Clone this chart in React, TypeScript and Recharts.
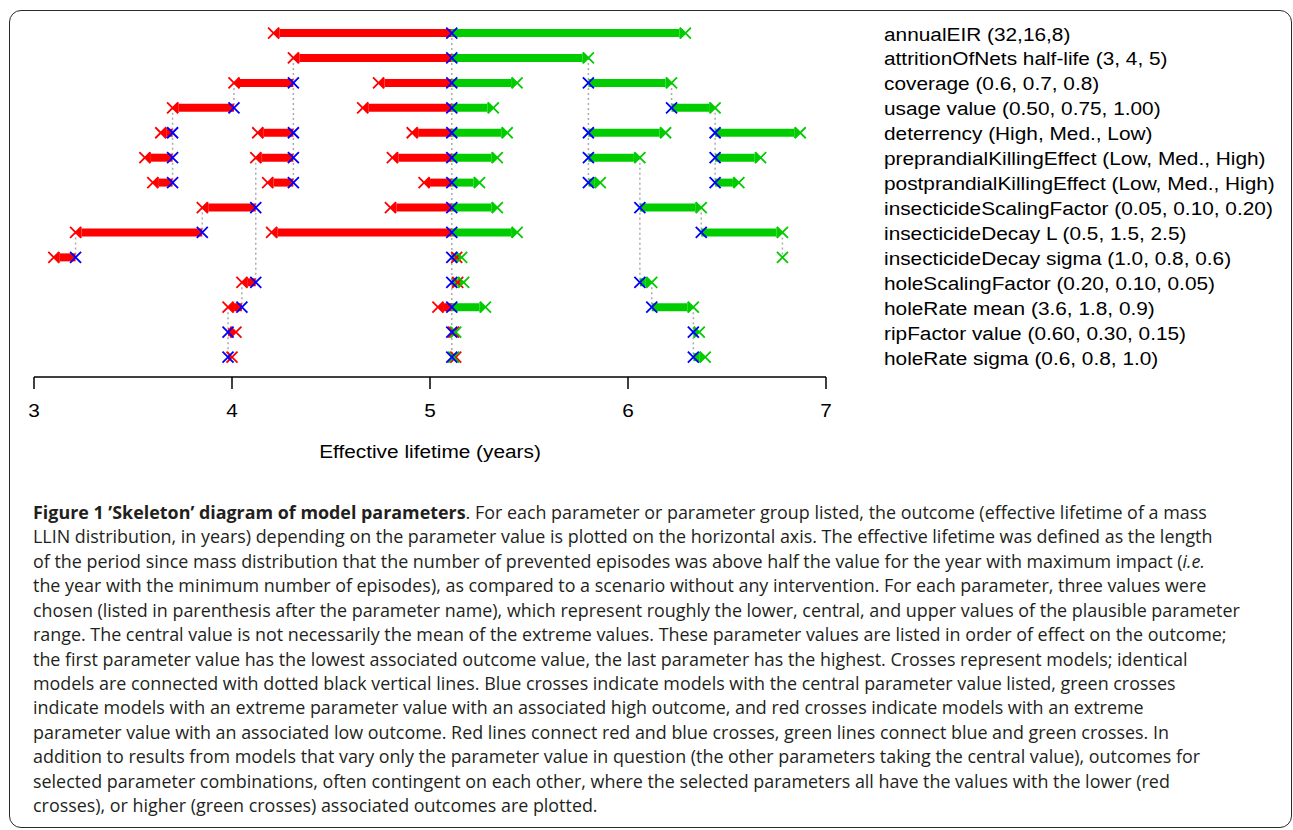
import React from 'react';
import { ComposedChart, XAxis, YAxis, Scatter, ReferenceLine } from 'recharts';

// ---------- data ----------
const parameterLabels = [
  'annualEIR (32,16,8)',
  'attritionOfNets half-life (3, 4, 5)',
  'coverage (0.6, 0.7, 0.8)',
  'usage value (0.50, 0.75, 1.00)',
  'deterrency (High, Med., Low)',
  'preprandialKillingEffect (Low, Med., High)',
  'postprandialKillingEffect (Low, Med., High)',
  'insecticideScalingFactor (0.05, 0.10, 0.20)',
  'insecticideDecay L (0.5, 1.5, 2.5)',
  'insecticideDecay sigma (1.0, 0.8, 0.6)',
  'holeScalingFactor (0.20, 0.10, 0.05)',
  'holeRate mean (3.6, 1.8, 0.9)',
  'ripFactor value (0.60, 0.30, 0.15)',
  'holeRate sigma (0.6, 0.8, 1.0)',
];
const rowIds = [1, 2, 3, 4, 5, 6, 7, 8, 9, 10, 11, 12, 13, 14];
const xTicks = [3, 4, 5, 6, 7];

// [row, central (blue) value, low-outcome (red) value]
const redSegments: [number, number, number][] = [
  [1, 5.11, 4.21],
  [2, 5.11, 4.31],
  [3, 4.31, 4.01], [3, 5.11, 4.74],
  [4, 4.01, 3.7], [4, 5.11, 4.66],
  [5, 3.7, 3.64], [5, 4.31, 4.13], [5, 5.11, 4.91],
  [6, 3.7, 3.56], [6, 4.31, 4.12], [6, 5.11, 4.81],
  [7, 3.7, 3.6], [7, 4.31, 4.18], [7, 5.11, 4.97],
  [8, 4.12, 3.85], [8, 5.11, 4.8],
  [9, 3.85, 3.21], [9, 5.11, 4.2],
  [10, 3.21, 3.1], [10, 5.11, 5.135],
  [11, 4.12, 4.05], [11, 5.11, 5.14],
  [12, 4.05, 3.98], [12, 5.11, 5.04],
  [13, 3.98, 4.02], [13, 5.11, 5.12],
  [14, 3.98, 4.0], [14, 5.11, 5.13],
];
// [row, central (blue) value, high-outcome (green) value]
const greenSegments: [number, number, number][] = [
  [1, 5.11, 6.29],
  [2, 5.11, 5.8],
  [3, 5.11, 5.44], [3, 5.8, 6.22],
  [4, 5.11, 5.32], [4, 6.22, 6.44],
  [5, 5.11, 5.39], [5, 5.8, 6.19], [5, 6.44, 6.87],
  [6, 5.11, 5.34], [6, 5.8, 6.06], [6, 6.44, 6.67],
  [7, 5.11, 5.25], [7, 5.8, 5.86], [7, 6.44, 6.56],
  [8, 5.11, 5.34], [8, 6.06, 6.37],
  [9, 5.11, 5.44], [9, 6.37, 6.78],
  [10, 5.11, 5.16],
  [11, 5.11, 5.17], [11, 6.06, 6.12],
  [12, 5.11, 5.28], [12, 6.12, 6.33],
  [13, 5.11, 5.13], [13, 6.33, 6.36],
  [14, 5.11, 5.12], [14, 6.33, 6.39],
];
// [row, value] green crosses without a central model in the same row
const loneGreenCrosses: [number, number][] = [[10, 6.78]];
// [value, from row, to row] identical models joined by dotted lines
const connectors: [number, number, number][] = [
  [5.11, 1, 14],
  [4.31, 2, 7],
  [5.8, 2, 7],
  [4.01, 3, 4],
  [6.22, 3, 4],
  [3.7, 4, 7],
  [6.44, 4, 7],
  [4.12, 6, 11],
  [6.06, 6, 11],
  [3.85, 8, 9],
  [6.37, 8, 9],
  [3.21, 9, 10],
  [6.78, 9, 10],
  [4.05, 11, 12],
  [6.12, 11, 12],
  [3.98, 12, 14],
  [6.33, 12, 14],
];

// ---------- derived point lists ----------
const blueKeys = new Set<string>();
const bluePoints: { x: number; y: number }[] = [];
[...redSegments, ...greenSegments].forEach(([r, b]) => {
  const k = r + ':' + b;
  if (!blueKeys.has(k)) {
    blueKeys.add(k);
    bluePoints.push({ x: b, y: r });
  }
});
const redPoints = redSegments.map(([r, , v]) => ({ x: v, y: r }));
const greenPoints = [
  ...greenSegments.map(([r, , v]) => ({ x: v, y: r })),
  ...loneGreenCrosses.map(([r, v]) => ({ x: v, y: r })),
];

// ---------- styles ----------
const RED = '#ff0000';
const GREEN = '#00cc00';
const BLUE = '#0000ff';
const AXIS_FONT = '"Liberation Sans", Arial, Helvetica, sans-serif';
const TEXT_SIZE = 18.6;
const STRETCH = 1.12;

const makeArrow = (color: string) => (p: any) => {
  const { x1, y1, x2 } = p;
  if (x1 == null || x2 == null) return <g />;
  const dir = x2 >= x1 ? 1 : -1;
  const len = Math.abs(x2 - x1);
  const head = Math.min(6, len);
  const base = x2 - dir * head;
  return (
    <g>
      <line x1={x1} y1={y1} x2={base} y2={y1} stroke={color} strokeWidth={8} />
      <polygon points={`${x2},${y1} ${base},${y1 - 5.5} ${base},${y1 + 5.5}`} fill={color} />
    </g>
  );
};
const redArrow = makeArrow(RED);
const greenArrow = makeArrow(GREEN);

const makeCross = (color: string) => (p: any) => {
  const { cx, cy } = p;
  if (cx == null || cy == null) return <g />;
  const s = 5.5;
  return (
    <path
      d={`M${cx - s},${cy - s}L${cx + s},${cy + s}M${cx - s},${cy + s}L${cx + s},${cy - s}`}
      stroke={color}
      strokeWidth={1.8}
      fill="none"
    />
  );
};

const LegendTick = (p: any) => {
  const { x, y, payload } = p;
  const label = parameterLabels[payload.value - 1] ?? '';
  return (
    <text
      transform={`translate(${x},${y}) scale(${STRETCH},1)`}
      dy="0.4em"
      textAnchor="start"
      fontFamily={AXIS_FONT}
      fontSize={TEXT_SIZE}
      fill="#000"
    >
      {label}
    </text>
  );
};

const XTick = (p: any) => {
  const { x, y, payload } = p;
  return (
    <text
      transform={`translate(${x},${y}) scale(${STRETCH},1)`}
      dy="0.71em"
      textAnchor="middle"
      fontFamily={AXIS_FONT}
      fontSize={TEXT_SIZE}
      fill="#000"
    >
      {payload.value}
    </text>
  );
};

const AxisTitle = (p: any) => {
  const vb = p.viewBox || {};
  const cx = (vb.x ?? 0) + (vb.width ?? 0) / 2;
  const cy = (vb.y ?? 0) + 81;
  return (
    <text
      transform={`translate(${cx},${cy}) scale(${STRETCH},1)`}
      textAnchor="middle"
      fontFamily={AXIS_FONT}
      fontSize={TEXT_SIZE}
      fill="#000"
    >
      Effective lifetime (years)
    </text>
  );
};

const captionFont = '"Open Sans", "Noto Sans", sans-serif';

export default function App() {
  return (
    <div
      style={{
        position: 'absolute',
        left: 0,
        top: 0,
        width: 1293,
        height: 830,
        overflow: 'hidden',
        background: '#fff',
      }}
    >
      <div
        style={{
          position: 'absolute',
          left: 9,
          top: 10,
          width: 1283,
          height: 818,
          border: '1.5px solid #2a2a2a',
          borderRadius: 12,
          boxSizing: 'border-box',
        }}
      />
      <div style={{ position: 'absolute', left: 0, top: 0 }}>
        <ComposedChart
          width={1293}
          height={480}
          margin={{ top: 20.6, right: 407, bottom: 13, left: 34 }}
        >
          <XAxis
            type="number"
            dataKey="x"
            domain={[3, 7]}
            allowDataOverflow
            ticks={xTicks}
            interval={0}
            height={90}
            tickSize={12}
            tickMargin={15}
            axisLine={{ stroke: '#000', strokeWidth: 1.5 }}
            tickLine={{ stroke: '#000', strokeWidth: 1.5 }}
            tick={<XTick />}
            label={{ content: (props: any) => <AxisTitle {...props} /> }}
          />
          <YAxis
            type="number"
            dataKey="y"
            orientation="right"
            domain={[0.5, 14.8]}
            allowDataOverflow
            reversed
            ticks={rowIds}
            interval={0}
            width={60}
            axisLine={false}
            tickLine={false}
            tickSize={0}
            tickMargin={58}
            tick={<LegendTick />}
          />
          {connectors.map(([x, a, b], i) => (
            <ReferenceLine
              key={'c' + i}
              segment={[{ x, y: a }, { x, y: b }]}
              stroke="#aaaaaa"
              strokeWidth={1.5}
              strokeDasharray="2 3"
              ifOverflow="visible"
            />
          ))}
          {redSegments.map(([r, b, v], i) => (
            <ReferenceLine
              key={'r' + i}
              segment={[{ x: b, y: r }, { x: v, y: r }]}
              shape={redArrow}
              ifOverflow="visible"
            />
          ))}
          {greenSegments.map(([r, b, v], i) => (
            <ReferenceLine
              key={'g' + i}
              segment={[{ x: b, y: r }, { x: v, y: r }]}
              shape={greenArrow}
              ifOverflow="visible"
            />
          ))}
          <Scatter data={redPoints} shape={makeCross(RED)} isAnimationActive={false} />
          <Scatter data={greenPoints} shape={makeCross(GREEN)} isAnimationActive={false} />
          <Scatter data={bluePoints} shape={makeCross(BLUE)} isAnimationActive={false} />
        </ComposedChart>
      </div>
      <div
        style={{
          position: 'absolute',
          left: 33,
          top: 500,
          fontFamily: captionFont,
          fontSize: 17.9,
          lineHeight: '24.42px',
          color: '#231f20',
          whiteSpace: 'nowrap',
        }}
      >
        <div>
          <b>Figure 1 ’Skeleton’ diagram of model parameters</b>. For each parameter or parameter group listed, the outcome (effective lifetime of a mass
        </div>
        <div>LLIN distribution, in years) depending on the parameter value is plotted on the horizontal axis. The effective lifetime was defined as the length</div>
        <div>
          of the period since mass distribution that the number of prevented episodes was above half the value for the year with maximum impact (<i>i.e.</i>
        </div>
        <div>the year with the minimum number of episodes), as compared to a scenario without any intervention. For each parameter, three values were</div>
        <div>chosen (listed in parenthesis after the parameter name), which represent roughly the lower, central, and upper values of the plausible parameter</div>
        <div>range. The central value is not necessarily the mean of the extreme values. These parameter values are listed in order of effect on the outcome;</div>
        <div>the first parameter value has the lowest associated outcome value, the last parameter has the highest. Crosses represent models; identical</div>
        <div>models are connected with dotted black vertical lines. Blue crosses indicate models with the central parameter value listed, green crosses</div>
        <div>indicate models with an extreme parameter value with an associated high outcome, and red crosses indicate models with an extreme</div>
        <div>parameter value with an associated low outcome. Red lines connect red and blue crosses, green lines connect blue and green crosses. In</div>
        <div>addition to results from models that vary only the parameter value in question (the other parameters taking the central value), outcomes for</div>
        <div>selected parameter combinations, often contingent on each other, where the selected parameters all have the values with the lower (red</div>
        <div>crosses), or higher (green crosses) associated outcomes are plotted.</div>
      </div>
    </div>
  );
}
